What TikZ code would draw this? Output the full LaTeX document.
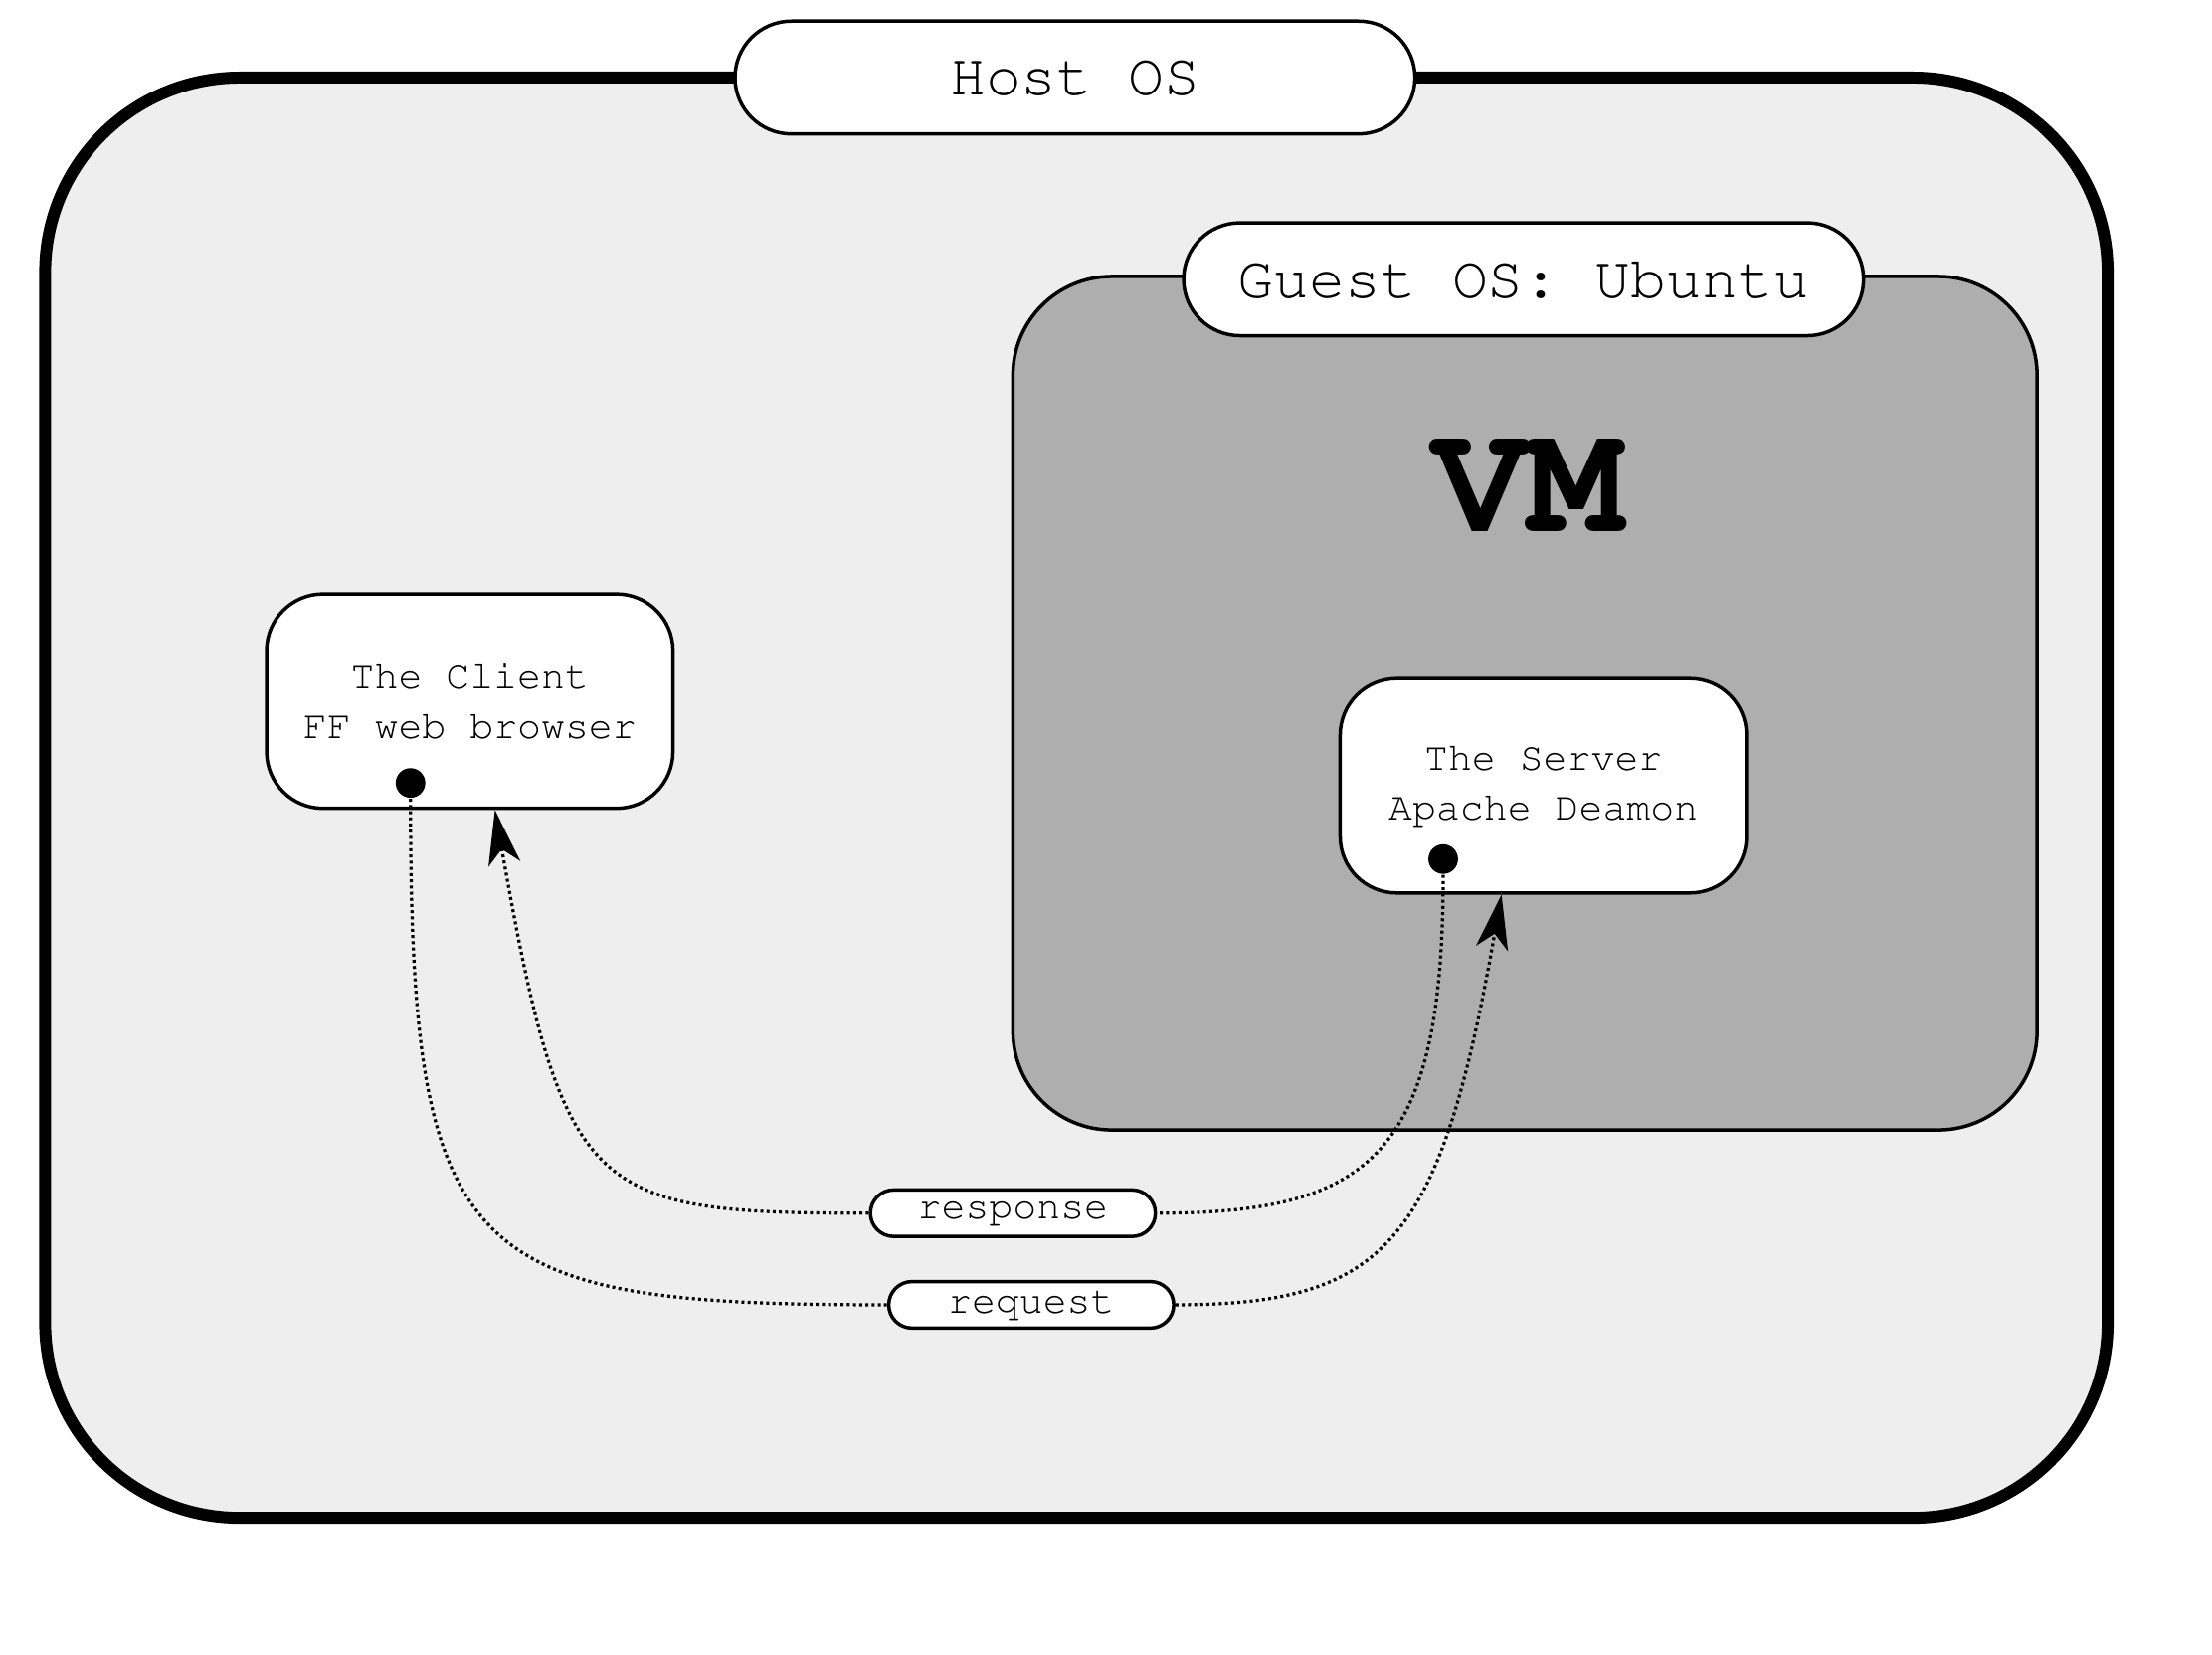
\documentclass[tikz,border=0pt]{standalone}
\usepackage[T1]{fontenc}
\usepackage{courier}
\usepackage{tikz}
\usetikzlibrary{arrows.meta,calc,shapes.misc}
\definecolor{hostgray}{HTML}{EEEEEE}
\definecolor{guestgray}{HTML}{AEAEAE}

\begin{document}
\begin{tikzpicture}[
    tag/.style={rounded rectangle,draw,fill=white,line width=0.7pt,inner sep=0pt,
        minimum width=4.82cm,minimum height=0.8cm,font=\ttfamily\fontsize{12}{14}\selectfont},
    msg/.style={rounded rectangle,draw,fill=white,line width=0.7pt,inner sep=0pt,
        minimum width=2.02cm,minimum height=0.33cm,font=\ttfamily\fontsize{8}{10}\selectfont},
    app/.style={draw,fill=white,line width=0.7pt,rounded corners=0.4cm,align=center,
        minimum width=2.88cm,minimum height=1.52cm,font=\ttfamily\fontsize{8}{10}\selectfont},
    dot/.style={circle,fill=black,inner sep=0pt,minimum size=0.21cm},
    link/.style={line width=0.65pt,dash pattern=on 0.6pt off 0.65pt},
    tip/.style={-{Stealth[length=11pt,width=6.5pt,inset=3pt]}}
]
    \useasboundingbox (0,0) rectangle (15.68,11.73);
    % host
    \draw[fill=hostgray,line width=2.4pt,rounded corners=1.38cm]
    (0.32,0.97) rectangle (14.94,11.18)
    ;
    \node[tag] (host) at (7.62,11.18) {Host OS};
    % guest
    \draw[fill=guestgray,line width=0.7pt,rounded corners=0.7cm]
    (7.18,3.72) rectangle (14.44,9.77)
    ;
    \node[tag] (guest) at (10.80,9.75) {Guest OS: Ubuntu};
    \node[anchor=base,font=\ttfamily\bfseries\fontsize{32}{36}\selectfont] (vm) at (10.83,7.96) {VM};
    % boxes
    \node[app] (client) at (3.33,6.76) {The Client\\FF web browser};
    \node[app] (server) at (10.94,6.16) {The Server\\Apache Deamon};
    \node[dot] (cdot) at (2.91,6.18) {};
    \node[dot] (sdot) at (10.23,5.64) {};
    \node[msg] (resp) at (7.18,3.13) {response};
    \node[msg] (req) at (7.31,2.48) {request};
    % links
    \draw[link] (cdot) to[out=-90,in=180,out distance=3.3cm,in distance=3cm] (req);
    \draw[link,tip] (req) to[out=0,in=-100,out distance=1.5cm,in distance=2.5cm] (server.-111);
    \draw[link] (sdot) to[out=-90,in=0,out distance=2cm,in distance=1.5cm] (resp);
    \draw[link,tip] (resp) to[out=180,in=-80,out distance=1.97cm,in distance=2.8cm] (client.-77);
\end{tikzpicture}
\end{document}
